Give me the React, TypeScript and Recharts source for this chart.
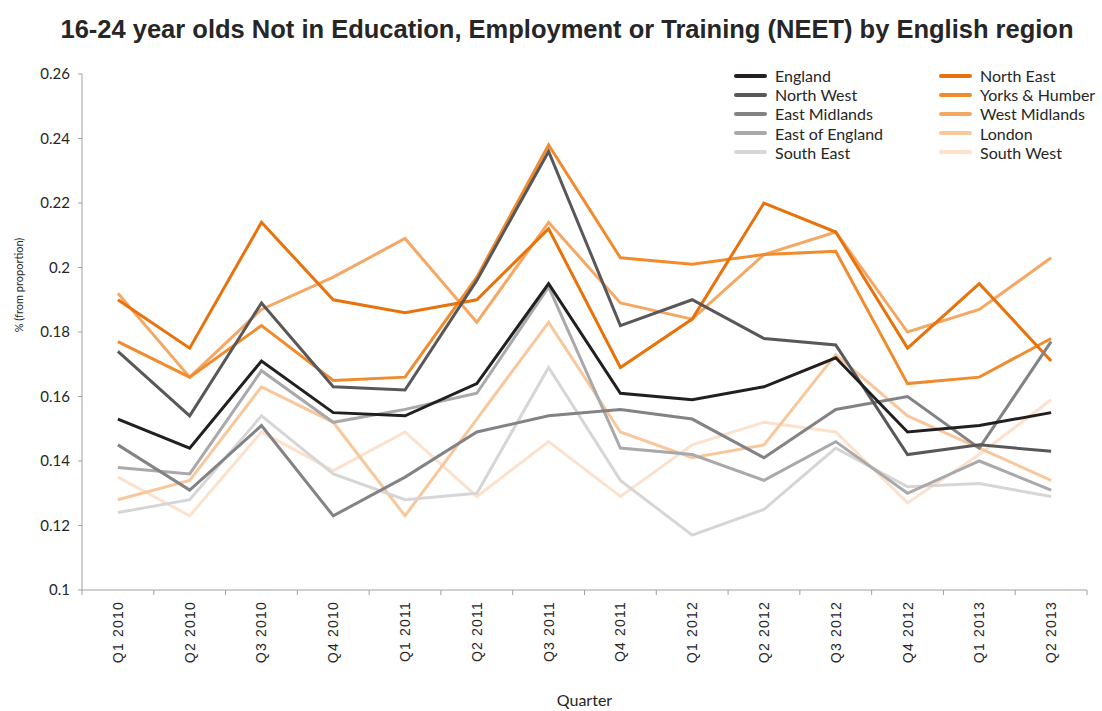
import { LineChart, Line, XAxis, YAxis } from "recharts";

const quarters = [
  "Q1 2010", "Q2 2010", "Q3 2010", "Q4 2010", "Q1 2011", "Q2 2011", "Q3 2011",
  "Q4 2011", "Q1 2012", "Q2 2012", "Q3 2012", "Q4 2012", "Q1 2013", "Q2 2013",
];

const england = [0.153, 0.144, 0.171, 0.155, 0.154, 0.164, 0.195, 0.161, 0.159, 0.163, 0.172, 0.149, 0.151, 0.155];
const northWest = [0.174, 0.154, 0.189, 0.163, 0.162, 0.196, 0.236, 0.182, 0.19, 0.178, 0.176, 0.142, 0.145, 0.143];
const eastMidlands = [0.145, 0.131, 0.151, 0.123, 0.135, 0.149, 0.154, 0.156, 0.153, 0.141, 0.156, 0.16, 0.144, 0.177];
const eastOfEngland = [0.138, 0.136, 0.168, 0.152, 0.156, 0.161, 0.194, 0.144, 0.142, 0.134, 0.146, 0.13, 0.14, 0.131];
const southEast = [0.124, 0.128, 0.154, 0.136, 0.128, 0.13, 0.169, 0.134, 0.117, 0.125, 0.144, 0.132, 0.133, 0.129];
const northEast = [0.19, 0.175, 0.214, 0.19, 0.186, 0.19, 0.212, 0.169, 0.184, 0.22, 0.211, 0.175, 0.195, 0.171];
const yorksHumber = [0.177, 0.166, 0.182, 0.165, 0.166, 0.197, 0.238, 0.203, 0.201, 0.204, 0.205, 0.164, 0.166, 0.178];
const westMidlands = [0.192, 0.166, 0.187, 0.197, 0.209, 0.183, 0.214, 0.189, 0.184, 0.204, 0.211, 0.18, 0.187, 0.203];
const london = [0.128, 0.134, 0.163, 0.152, 0.123, 0.153, 0.183, 0.149, 0.141, 0.145, 0.173, 0.154, 0.144, 0.134];
const southWest = [0.135, 0.123, 0.149, 0.137, 0.149, 0.129, 0.146, 0.129, 0.145, 0.152, 0.149, 0.127, 0.142, 0.159];

const yTicks = [0.1, 0.12, 0.14, 0.16, 0.18, 0.2, 0.22, 0.24, 0.26];

// legend order: left column greys, right column oranges
const greySeries = [
  { key: "England", color: "#231f20", values: england },
  { key: "North West", color: "#58585a", values: northWest },
  { key: "East Midlands", color: "#838386", values: eastMidlands },
  { key: "East of England", color: "#a9a9ab", values: eastOfEngland },
  { key: "South East", color: "#d6d6d6", values: southEast },
];
const orangeSeries = [
  { key: "North East", color: "#e8720c", values: northEast },
  { key: "Yorks & Humber", color: "#f08b2e", values: yorksHumber },
  { key: "West Midlands", color: "#f4a864", values: westMidlands },
  { key: "London", color: "#f8c89c", values: london },
  { key: "South West", color: "#fce2cd", values: southWest },
];
const allSeries = [...greySeries, ...orangeSeries];

const chartData = quarters.map((q, i) => {
  const row: Record<string, number | string> = { idx: i, quarter: q };
  allSeries.forEach((s) => (row[s.key] = s.values[i]));
  return row;
});

// labels sit on category centres, tick marks on the boundaries between them
const xTicks = quarters.flatMap((_, i) => (i === 0 ? [i - 0.5, i, i + 0.5] : [i, i + 0.5]));

const axisGrey = "#a0a0a0";
const textColor = "#262626";
const arial = "'Liberation Sans', Arial, sans-serif";

function QuarterTick(props: any) {
  const { x, y, payload } = props;
  const v = payload.value as number;
  if (!Number.isInteger(v)) {
    return <line x1={x} x2={x} y1={y - 5} y2={y} stroke={axisGrey} strokeWidth={1} />;
  }
  const ty = y + 6;
  return (
    <text
      x={x}
      y={ty}
      transform={`rotate(-90, ${x}, ${ty})`}
      textAnchor="end"
      dominantBaseline="central"
      fill={textColor}
      fontFamily={arial}
      fontSize={14}
      letterSpacing={1.2}
    >
      {quarters[v]}
    </text>
  );
}

function LegendColumn({ items, left }: { items: typeof greySeries; left: number }) {
  return (
    <div style={{ position: "absolute", left, top: 66 }}>
      {items.map((s) => (
        <div key={s.key} style={{ display: "flex", alignItems: "center", height: 19.2 }}>
          <span style={{ width: 33, height: 4, borderRadius: 2, background: s.color, marginRight: 8 }} />
          <span style={{ fontSize: 16, color: textColor, whiteSpace: "nowrap" }}>{s.key}</span>
        </div>
      ))}
    </div>
  );
}

export default function App() {
  return (
    <div
      style={{
        position: "absolute",
        left: 0,
        top: 0,
        width: 1102,
        height: 711,
        background: "#fff",
        fontFamily: "Lato, 'Open Sans', sans-serif",
      }}
    >
      <div
        style={{
          position: "absolute",
          top: 14,
          left: 0,
          width: 1134,
          textAlign: "center",
          fontFamily: arial,
          fontWeight: 700,
          fontSize: 25.5,
          lineHeight: "30px",
          color: textColor,
          whiteSpace: "nowrap",
        }}
      >
        16-24 year olds Not in Education, Employment or Training (NEET) by English region
      </div>

      <LineChart width={1102} height={711} data={chartData} margin={{ top: 74, right: 15, bottom: 0, left: 0 }}>
        <XAxis
          dataKey="idx"
          type="number"
          domain={[-0.5, quarters.length - 0.5]}
          ticks={xTicks}
          interval={0}
          tick={<QuarterTick />}
          tickLine={false}
          tickSize={5}
          tickMargin={0}
          axisLine={{ stroke: axisGrey }}
          height={121}
          label={{
            value: "Quarter",
            position: "insideBottom",
            offset: 5,
            fill: textColor,
            fontSize: 16,
          }}
        />
        <YAxis
          type="number"
          domain={[0.1, 0.26]}
          ticks={yTicks}
          interval={0}
          width={82}
          tickFormatter={(v: number) => String(+v.toFixed(2))}
          tick={{ fill: textColor, fontSize: 15 }}
          tickSize={4}
          tickMargin={8}
          tickLine={{ stroke: axisGrey }}
          axisLine={{ stroke: axisGrey }}
          label={{
            content: ({ viewBox }: any) => {
              const lx = viewBox.x + 18;
              const ly = 285;
              return (
                <text
                  x={lx}
                  y={ly}
                  transform={`rotate(-90, ${lx}, ${ly})`}
                  textAnchor="middle"
                  dominantBaseline="central"
                  fill={textColor}
                  fontSize={11}
                >
                  % (from proportion)
                </text>
              );
            },
          }}
        />
        {[...allSeries].reverse().map((s) => (
          <Line
            key={s.key}
            dataKey={s.key}
            stroke={s.color}
            strokeWidth={3}
            dot={false}
            activeDot={false}
            isAnimationActive={false}
          />
        ))}
      </LineChart>

      <LegendColumn items={greySeries} left={734} />
      <LegendColumn items={orangeSeries} left={939} />
    </div>
  );
}
